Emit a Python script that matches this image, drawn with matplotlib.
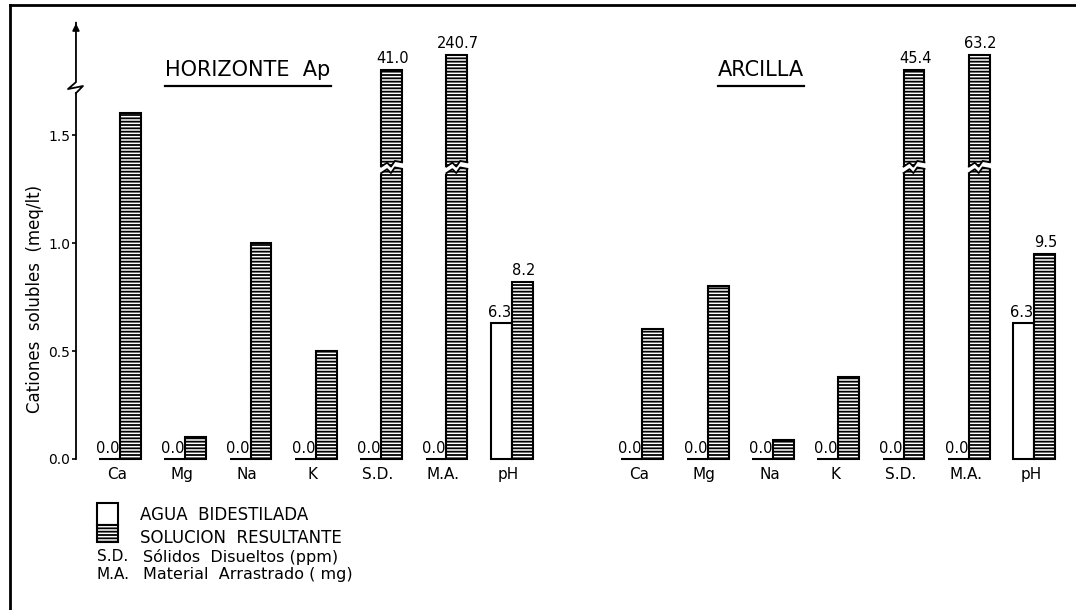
import numpy as np
import matplotlib.pyplot as plt
from matplotlib.patches import Rectangle, Polygon
from matplotlib.lines import Line2D

# Data
categories = ['Ca', 'Mg', 'Na', 'K', 'S.D.', 'M.A.', 'pH']
# cations in meq/lt, S.D. in ppm, M.A. in mg, pH in pH units
ap_agua = [0.0, 0.0, 0.0, 0.0, 0.0, 0.0, 6.3]
ap_solucion = [1.6, 0.1, 1.0, 0.5, 41.0, 240.7, 8.2]
arc_agua = [0.0, 0.0, 0.0, 0.0, 0.0, 0.0, 6.3]
arc_solucion = [0.6, 0.8, 0.09, 0.38, 45.4, 63.2, 9.5]
panels = ['HORIZONTE  Ap', 'ARCILLA']

# S.D. and M.A. are drawn as broken bars reaching above the axis break
broken_top = {4: 1.80, 5: 1.87}
break_y = 1.33
ph_scale = 0.1   # pH drawn as pH/10 on the cation axis

plt.rcParams['hatch.linewidth'] = 1.3
plt.rcParams['font.family'] = 'DejaVu Sans'

fig = plt.figure(figsize=(10.76, 6.10), dpi=100)
ax = fig.add_axes([0.0706, 0.2295, 0.9238, 0.7541])
ax.set_xlim(-0.674, 14.548)
ax.set_ylim(-0.051, 2.079)
for s in ax.spines.values():
    s.set_visible(False)
ax.set_xticks([])
ax.set_yticks([0, 0.5, 1.0, 1.5])
ax.set_yticklabels(['0.0', '0.5', '1.0', '1.5'], fontsize=10)
ax.tick_params(axis='y', direction='out', length=3, width=1.2, pad=1)

w = 0.32


def display_height(i, v):
    if v == 0:
        return 0.0
    if i in broken_top:
        return broken_top[i]
    if categories[i] == 'pH':
        return v * ph_scale
    return v


def draw_break(x0, y):
    xs = np.array([x0 - 0.03, x0 + 0.09, x0 + 0.15, x0 + 0.21, x0 + w + 0.03])
    lo = y + np.array([-0.012, 0.012, -0.006, 0.02, 0.012])
    hi = lo + 0.03
    poly = np.vstack([np.column_stack([xs, lo]), np.column_stack([xs[::-1], hi[::-1]])])
    ax.add_patch(Polygon(poly, closed=True, facecolor='white', edgecolor='none', zorder=3))
    xin = np.concatenate([[x0], xs[1:-1], [x0 + w]])
    for edge in (lo, hi):
        ax.plot(xin, np.interp(xin, xs, edge), color='black', lw=1.3, zorder=4)


for p, (agua, sol) in enumerate([(ap_agua, ap_solucion), (arc_agua, arc_solucion)]):
    x = np.arange(len(categories)) + p * 8
    ha = [display_height(i, v) for i, v in enumerate(agua)]
    hs = [display_height(i, v) for i, v in enumerate(sol)]
    ax.bar(x - w, ha, width=w, align='edge', facecolor='white', edgecolor='black',
           linewidth=1.5, zorder=2)
    ax.bar(x, hs, width=w, align='edge', facecolor='white', edgecolor='black',
           linewidth=1.5, hatch='-----', zorder=2)
    for i in range(len(categories)):
        ax.text(x[i] - w / 2 - 0.03, ha[i] + 0.012, f'{agua[i]:.1f}', ha='center',
                va='bottom', fontsize=10.5)
        if i >= 4:
            ax.text(x[i] + w / 2 + 0.02, hs[i] + 0.02, f'{sol[i]:.1f}', ha='center',
                    va='bottom', fontsize=10.5)
        if i in broken_top:
            draw_break(x[i], break_y)
        ax.text(x[i] - 0.05, -0.074, categories[i], ha='center', va='center',
                fontsize=11, clip_on=False)

# titles with underline
titles = []
titles.append(ax.text(1.96, 1.80, panels[0], ha='center', va='center', fontsize=15))
titles.append(ax.text(9.82, 1.80, panels[1], ha='center', va='center', fontsize=15))
fig.canvas.draw()
inv = ax.transData.inverted()
for t in titles:
    bb = t.get_window_extent()
    (x0, y0), (x1, y1) = inv.transform([[bb.x0, bb.y0], [bb.x1, bb.y1]])
    ax.plot([x0, x1], [y0 - 0.025, y0 - 0.025], color='black', lw=1.6)

# y axis with break and arrow
xa = -0.674
ax.plot([xa, xa], [0, 1.694], color='black', lw=1.3, clip_on=False)
ax.plot([xa, -0.567, -0.796, xa, xa], [1.694, 1.727, 1.713, 1.745, 2.02],
        color='black', lw=1.3, clip_on=False)
ax.annotate('', xy=(xa, 2.03), xytext=(xa, 1.98),
            arrowprops=dict(arrowstyle='-|>', color='black', lw=1.3,
                            mutation_scale=10), annotation_clip=False)
ax.text(-1.3, 0.74, 'Cationes  solubles  (meq/lt)', rotation=90, ha='center',
        va='center', fontsize=12)

# legend
ax.add_patch(Rectangle((-0.35, -0.305), w, 0.102, facecolor='white', edgecolor='black',
                       lw=1.5, clip_on=False))
ax.add_patch(Rectangle((-0.35, -0.384), w, 0.079, facecolor='white', edgecolor='black',
                       lw=1.5, hatch='-----', clip_on=False))
ax.text(0.306, -0.259, 'AGUA  BIDESTILADA', va='center', fontsize=12)
ax.text(0.306, -0.366, 'SOLUCION  RESULTANTE', va='center', fontsize=12)
ax.text(-0.352, -0.452, 'S.D.', va='center', fontsize=11)
ax.text(0.35, -0.452, 'Sólidos  Disueltos (ppm)', va='center', fontsize=11.5)
ax.text(-0.352, -0.535, 'M.A.', va='center', fontsize=11)
ax.text(0.35, -0.535, 'Material  Arrastrado ( mg)', va='center', fontsize=11.5)

# frame of the scanned page
fig.add_artist(Line2D([0.0093, 0.0093], [0.0, 0.992], color='black', lw=2))
fig.add_artist(Line2D([0.0093, 1.0], [0.992, 0.992], color='black', lw=2))

fig.savefig('out.png', dpi=100)
